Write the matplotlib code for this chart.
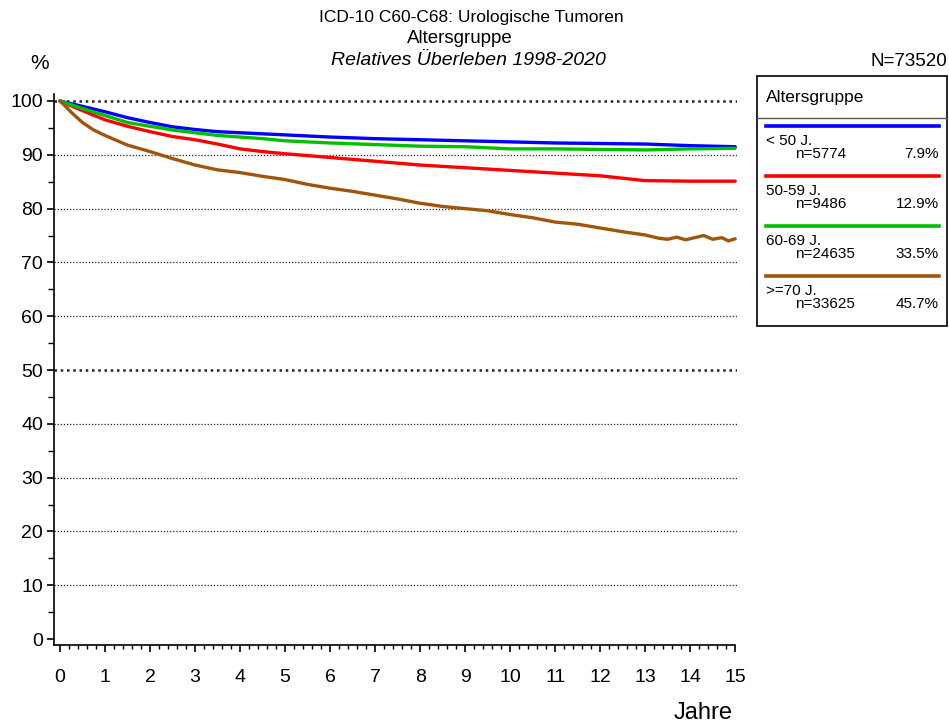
import numpy as np
import matplotlib
matplotlib.use("Agg")
import matplotlib.pyplot as plt
from matplotlib.ticker import MultipleLocator

plt.rcParams['font.family'] = ['Liberation Sans', 'DejaVu Sans']

# --- data (relative survival, %) ---
years_std = [0, 0.25, 0.5, 1, 1.5, 2, 2.5, 3, 3.5, 4, 4.5, 5, 6, 7, 8, 9, 10, 11, 12, 13, 14, 15]
surv_u50 = [100, 99.5, 99.0, 98.0, 96.9, 96.0, 95.2, 94.7, 94.3, 94.1, 93.9, 93.7, 93.3, 93.0,
            92.8, 92.6, 92.4, 92.2, 92.1, 92.0, 91.7, 91.5]
surv_50_59 = [100, 99.1, 98.2, 96.5, 95.3, 94.3, 93.4, 92.8, 92.0, 91.1, 90.6, 90.2, 89.5, 88.8,
              88.1, 87.6, 87.1, 86.6, 86.1, 85.2, 85.1, 85.1]
surv_60_69 = [100, 99.3, 98.6, 97.3, 96.0, 95.3, 94.6, 94.1, 93.6, 93.3, 93.0, 92.6, 92.2, 91.9,
              91.6, 91.5, 91.1, 91.1, 91.0, 90.9, 91.1, 91.2]
years_o70 = [0, 0.1, 0.25, 0.5, 0.75, 1, 1.5, 2, 2.5, 3, 3.5, 4, 4.5, 5, 5.5, 6, 6.5, 7, 7.5, 8,
             8.5, 9, 9.5, 10, 10.5, 11, 11.5, 12, 12.5, 13, 13.3, 13.5, 13.7, 13.9, 14.1, 14.3,
             14.5, 14.7, 14.85, 15]
surv_o70 = [100, 99.2, 97.9, 96.0, 94.6, 93.6, 91.8, 90.6, 89.3, 88.1, 87.2, 86.7, 86.0, 85.4,
            84.5, 83.8, 83.2, 82.5, 81.8, 81.0, 80.4, 80.0, 79.6, 78.9, 78.3, 77.5, 77.1, 76.4,
            75.7, 75.1, 74.5, 74.3, 74.7, 74.2, 74.6, 75.0, 74.3, 74.6, 74.0, 74.4]

groups = ['< 50 J.', '50-59 J.', '60-69 J.', '>=70 J.']
counts = [5774, 9486, 24635, 33625]
shares = ['7.9%', '12.9%', '33.5%', '45.7%']
colors = ['#0000ff', '#ff0000', '#00c000', '#a0560a']
series_x = [years_std, years_std, years_std, years_o70]
series_y = [surv_u50, surv_50_59, surv_60_69, surv_o70]

W, H = 949, 725
fig = plt.figure(figsize=(W / 100, H / 100), dpi=100)
ax = fig.add_axes([54 / W, (H - 645) / H, (737 - 54) / W, (645 - 94) / H])

# grid lines
for g in range(10, 100, 10):
    lw = 1.8 if g == 50 else 0.9
    ax.axhline(g, color='#222222', linestyle=(0, (1, 1.5)), linewidth=lw, zorder=1)
ax.axhline(100, color='#222222', linestyle=(0, (1, 1.5)), linewidth=1.8, zorder=1)

for xs, ys, c in zip(series_x, series_y, colors):
    ax.plot(xs, ys, color=c, linewidth=2.4, zorder=3, solid_capstyle='round')

ax.set_xlim(-0.133, 15.04)
ax.set_ylim(-1.1, 101.3)
ax.spines['top'].set_visible(False)
ax.spines['right'].set_visible(False)
ax.spines['left'].set_linewidth(1.2)
ax.spines['bottom'].set_linewidth(1.2)
ax.spines['bottom'].set_bounds(-0.133, 15.0)

ax.xaxis.set_major_locator(MultipleLocator(1))
ax.xaxis.set_minor_locator(MultipleLocator(0.2))
ax.yaxis.set_major_locator(MultipleLocator(10))
ax.yaxis.set_minor_locator(MultipleLocator(5))
ax.tick_params(axis='x', which='major', length=5, width=1.2, pad=12, labelsize=14)
ax.tick_params(axis='x', which='minor', length=3, width=1)
ax.tick_params(axis='y', which='major', length=5, width=1.2, pad=3, labelsize=14)
ax.tick_params(axis='y', which='minor', length=4, width=1)
ax.set_xticks(range(0, 16))

# overlay in pixel coordinates for titles and legend box
ov = fig.add_axes([0, 0, 1, 1])
ov.set_xlim(0, W)
ov.set_ylim(H, 0)
ov.axis('off')

ov.text(471, 22, 'ICD-10 C60-C68: Urologische Tumoren', ha='center', va='baseline', fontsize=12.5)
ov.text(460, 43, 'Altersgruppe', ha='center', va='baseline', fontsize=13.5)
ov.text(468, 65, 'Relatives Überleben 1998-2020', ha='center', va='baseline', fontsize=14,
        style='italic')
ov.text(40, 63, '%', ha='center', va='center', fontsize=15)
ov.text(947, 61, 'N=73520', ha='right', va='center', fontsize=13.5)
ov.text(703, 713, 'Jahre', ha='center', va='center', fontsize=17)

# legend box
ov.add_patch(plt.Rectangle((757, 76), 190, 250, fill=False, edgecolor='black', linewidth=1.2))
ov.plot([757, 947], [118, 118], color='#555555', linewidth=1)
ov.text(766, 97, 'Altersgruppe', ha='left', va='center', fontsize=12.5)
for i, (lab, n, s, c) in enumerate(zip(groups, counts, shares, colors)):
    y0 = 126 + 50 * i
    ov.plot([766, 939], [y0, y0], color=c, linewidth=2.6)
    ov.text(766, y0 + 15, lab, ha='left', va='center', fontsize=11)
    ov.text(795, y0 + 28, f'n={n}', ha='left', va='center', fontsize=11)
    ov.text(939, y0 + 28, s, ha='right', va='center', fontsize=11)

fig.savefig('out.png', dpi=100)
